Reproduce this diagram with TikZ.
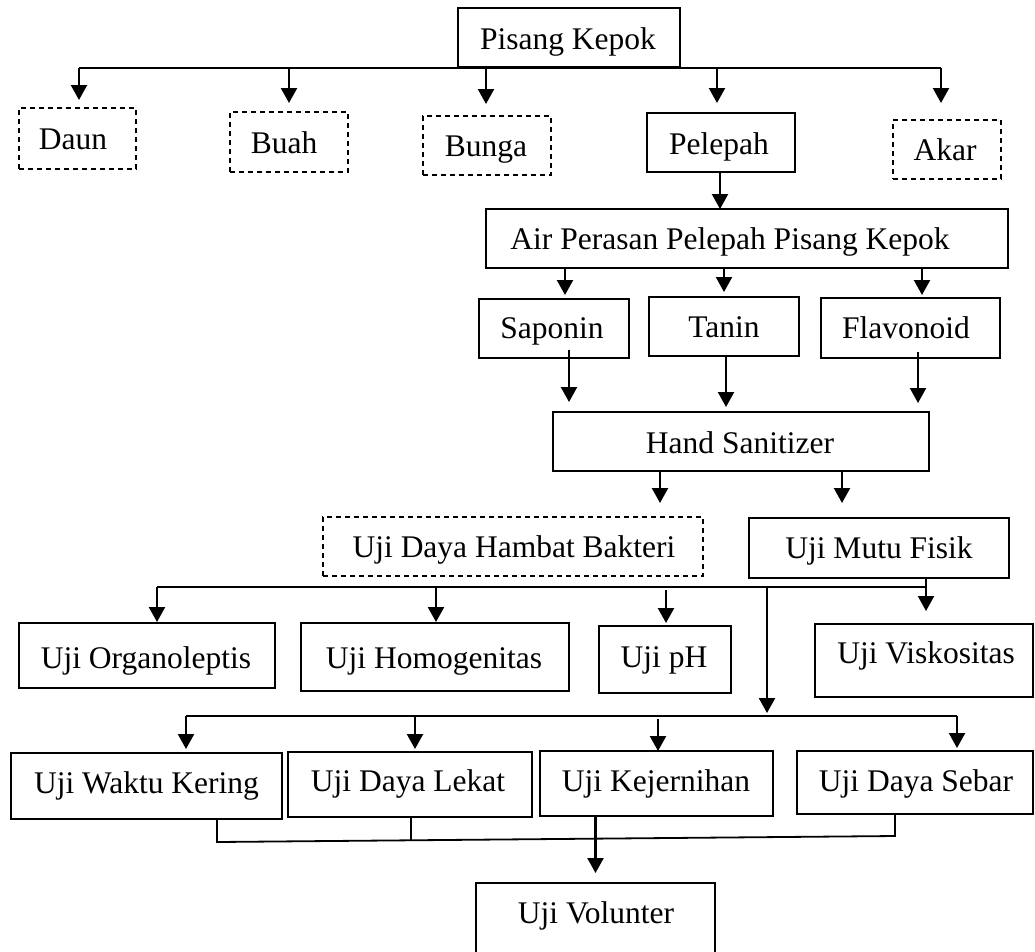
\documentclass[tikz,border=0pt]{standalone}
\usepackage{fontspec}
\setmainfont{Liberation Serif}
\usetikzlibrary{arrows.meta}
\newcommand{\bx}[9]{%
  \node[#2, minimum width={((#5)-(#3))*1pt}, minimum height={((#6)-(#4))*1pt}] (#1) at ({((#3)+(#5))/2},{((#4)+(#6))/2}) {};
  \node[txt] (#1-t) at (#7,#8) {#9};}
\begin{document}
\begin{tikzpicture}[x=1pt,y=-1pt,
  box/.style={draw, line width=1.6pt, inner sep=0pt, outer sep=0pt},
  dbox/.style={box, line width=1.3pt, dash pattern=on 5pt off 4pt},
  txt/.style={anchor=base, inner sep=0pt, font=\fontsize{31.5}{37}\selectfont},
  ln/.style={line width=1.8pt},
  arr/.style={line width=2.3pt, -{Triangle[length=15pt,width=16pt]}}]
\useasboundingbox (0,0) rectangle (1035,951);
% boxes
\bx{pk}{box}{458}{8}{680}{67}{568}{49}{Pisang Kepok}
\bx{daun}{dbox}{19}{108}{136}{169}{73}{149}{Daun}
\bx{buah}{dbox}{230}{112}{348}{172}{284}{153}{Buah}
\bx{bunga}{dbox}{423}{116}{551}{175}{486}{156}{Bunga}
\bx{pel}{box}{647}{113}{795}{172}{719}{154}{Pelepah}
\bx{akar}{dbox}{893}{120}{1001}{179}{945}{160}{Akar}
\bx{air}{box}{486}{209}{1008}{268}{730}{249}{Air Perasan Pelepah Pisang Kepok}
\bx{sap}{box}{479}{299}{629}{358}{552}{338}{Saponin}
\bx{tan}{box}{649}{297}{799}{356}{724}{337}{Tanin}
\bx{fla}{box}{821}{298}{1000}{358}{906}{338}{Flavonoid}
\bx{hand}{box}{553}{412}{929}{471}{740}{453}{Hand Sanitizer}
\bx{hambat}{dbox}{323}{517}{703}{576}{514}{557}{Uji Daya Hambat Bakteri}
\bx{mutu}{box}{749}{518}{1009}{578}{879}{558}{Uji Mutu Fisik}
\bx{org}{box}{19}{623}{275}{688}{146}{668}{Uji Organoleptis}
\bx{hom}{box}{301}{623}{569}{691}{434}{668}{Uji Homogenitas}
\bx{ph}{box}{599}{626}{731}{693}{664}{667}{Uji pH}
\bx{visk}{box}{815}{624}{1033}{697}{926}{663}{Uji Viskositas}
\bx{wk}{box}{11}{753}{282}{819}{146.5}{793}{Uji Waktu Kering}
\bx{dl}{box}{288}{752}{532}{817}{408}{791}{Uji Daya Lekat}
\bx{kej}{box}{540}{751}{773}{816}{656}{791}{Uji Kejernihan}
\bx{ds}{box}{797}{751}{1033}{814}{916}{791}{Uji Daya Sebar}
\bx{vol}{box}{476}{883}{715}{960}{596}{923}{Uji Volunter}
% top bus
\coordinate (b1L) at (79,68);
\coordinate (b1R) at (941,68);
\draw[ln] (b1L) -- (b1R);
\draw[arr, shorten >=8pt] ([xshift=1.5pt]daun.north |- b1L) -- ([xshift=1.5pt]daun.north);
\draw[arr, shorten >=9pt] (buah.north |- b1L) -- (buah.north);
\draw[arr, shorten >=12pt] ([xshift=-1pt]bunga.north |- b1L) -- ([xshift=-1pt]bunga.north);
\draw[arr, shorten >=10pt] ([xshift=-4pt]pel.north |- b1L) -- ([xshift=-4pt]pel.north);
\draw[arr, shorten >=17pt] (b1R) -- (b1R |- akar.north);
% pelepah to air
\draw[arr] ([xshift=-1pt]pel.south) -- ([xshift=-1pt]pel.south |- air.north);
% air to compounds
\draw[arr, shorten >=4pt] ([xshift=11pt]sap.north |- air.south) -- ([xshift=11pt]sap.north);
\draw[arr, shorten >=5pt] (tan.north |- air.south) -- (tan.north);
\draw[arr, shorten >=3pt] ([xshift=11.5pt]fla.north |- air.south) -- ([xshift=11.5pt]fla.north);
% compounds to hand sanitizer
\draw[arr, shorten >=10pt] ([xshift=15pt,yshift=8pt]sap.south) -- ([xshift=15pt]sap.south |- hand.north);
\draw[arr, shorten >=5pt] ([xshift=2pt,yshift=1pt]tan.south) -- ([xshift=2pt]tan.south |- hand.north);
\draw[arr, shorten >=9pt] ([xshift=7.5pt,yshift=6pt]fla.south) -- ([xshift=7.5pt]fla.south |- hand.north);
% hand sanitizer to tests
\draw[arr, shorten >=14pt] ([xshift=-81pt]hand.south) -- ([xshift=-81pt]hand.south |- hambat.north);
\draw[arr, shorten >=15pt] ([xshift=101pt]hand.south) -- ([xshift=101pt]hand.south |- mutu.north);
% second bus
\coordinate (b2L) at (157,587);
\coordinate (b2R) at (926,587);
\coordinate (b2M) at (767,587);
\draw[ln] (b2L) -- (b2R);
\draw[ln] ([xshift=47pt]mutu.south) -- (b2R);
\draw[arr, shorten >=13pt] (b2R) -- (b2R |- visk.north);
\draw[arr, shorten >=1pt] (b2L) -- (b2L |- org.north);
\draw[arr, shorten >=1pt] ([xshift=1pt]hom.north |- b2L) -- ([xshift=1pt]hom.north);
\draw[arr, shorten <=3pt, shorten >=3pt] ([xshift=1pt]ph.north |- b2L) -- ([xshift=1pt]ph.north);
% third bus
\coordinate (b3L) at (186,716);
\coordinate (b3R) at (957,716);
\draw[arr, shorten >=3pt] (b2M) -- (b2M |- b3L);
\draw[ln] (b3L) -- (b3R);
\draw[arr, shorten >=4pt] (b3L) -- (b3L |- wk.north);
\draw[arr, shorten >=3pt] ([xshift=5pt]dl.north |- b3L) -- ([xshift=5pt]dl.north);
\draw[arr, shorten <=3pt] ([xshift=1.5pt]kej.north |- b3L) -- ([xshift=1.5pt]kej.north);
\draw[arr, shorten >=3pt] (b3R) -- (b3R |- ds.north);
% bottom join
\coordinate (j1) at (217,842);
\coordinate (j2) at (895,836);
\coordinate (j3) at (411,840.3);
\draw[ln] ([xshift=70.5pt]wk.south) -- (j1) -- (j2) -- (j2 |- ds.south);
\draw[ln] ([xshift=1pt]dl.south) -- (j3);
\draw[arr, shorten >=10pt] (vol.north |- kej.south) -- (vol.north);
\end{tikzpicture}
\end{document}
